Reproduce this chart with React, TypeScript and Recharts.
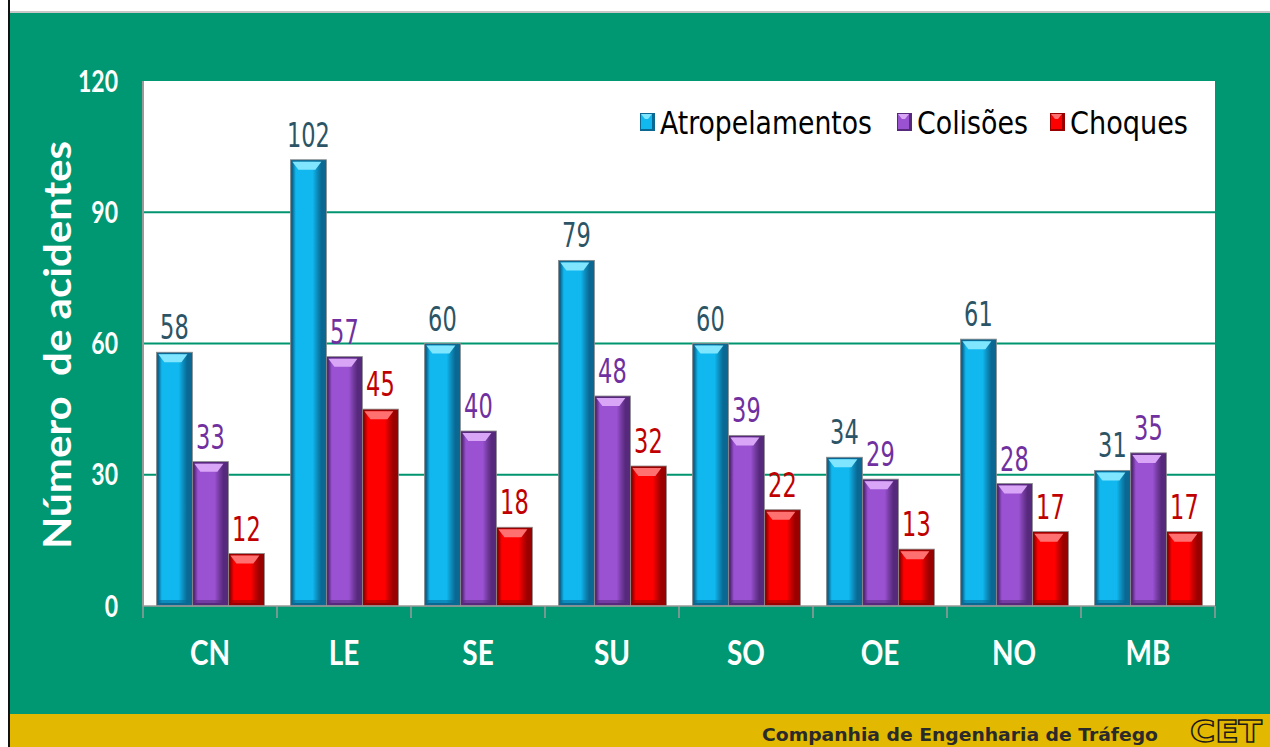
import React from 'react';
import { BarChart, Bar, XAxis, YAxis, CartesianGrid, Legend, LabelList } from 'recharts';

// accidents by region
const regions = ['CN', 'LE', 'SE', 'SU', 'SO', 'OE', 'NO', 'MB'];
const atropelamentos = [58, 102, 60, 79, 60, 34, 61, 31];
const colisoes = [33, 57, 40, 48, 39, 29, 28, 35];
const choques = [12, 45, 18, 32, 22, 13, 17, 17];
const yTicks = [0, 30, 60, 90, 120];
const gridValues = [30, 60, 90];

const data = regions.map((region, i) => ({
    region,
    atropelamentos: atropelamentos[i],
    colisoes: colisoes[i],
    choques: choques[i],
}));

const series = [
    { key: 'atropelamentos', name: 'Atropelamentos', main: '#10b8ef', light: '#80e6ff', dark: '#0a6892', label: '#2b5566', legendW: 212 },
    { key: 'colisoes', name: 'Colisões', main: '#9a52d2', light: '#d9a6f7', dark: '#57297c', label: '#7030a0', legendW: 111 },
    { key: 'choques', name: 'Choques', main: '#ff0000', light: '#ff7070', dark: '#990000', label: '#c00000', legendW: 118 },
];

const GREEN = '#009873';
const YELLOW = '#e2b800';
const CONDENSED = "'DejaVu Sans Condensed', 'DejaVu Sans', sans-serif";

const makeShape = (s: typeof series[number]) => (props: any) => {
    const { x, y, width: w, height: h } = props;
    if (!h || h <= 0) return <g />;
    const b = Math.min(8, h / 3);
    return (
        <g>
            <rect x={x} y={y} width={w} height={h} fill={s.dark} stroke="#8c8c8c" strokeWidth={0.8} />
            <rect x={x + 2} y={y + 2} width={w - 7} height={h - 5} fill={`url(#grad-${s.key})`} />
            <polygon
                points={`${x + 2},${y + 2} ${x + w - 5},${y + 2} ${x + w - 11},${y + 2 + b} ${x + 8},${y + 2 + b}`}
                fill={s.light}
            />
            <rect x={x + 2} y={y + h - 6} width={w - 7} height={4} fill={s.dark} opacity={0.55} />
        </g>
    );
};

const makeLabel = (color: string) => (props: any) => {
    const vb = props.viewBox || {};
    const x = Number(props.x ?? vb.x);
    const y = Number(props.y ?? vb.y);
    const w = Number(props.width ?? vb.width);
    return (
        <text
            transform={`translate(${x + w / 2},${y - 13}) scale(1,1.35)`}
            textAnchor="middle"
            fill={color}
            fontSize={25}
            fontFamily={CONDENSED}
        >
            {props.value}
        </text>
    );
};

const XTick = (props: any) => {
    const { x, y, payload, index } = props;
    const off = payload?.offset ?? 67;
    return (
        <g>
            <line x1={x - off} x2={x - off} y1={y} y2={y + 12} stroke="#9a9a9a" strokeWidth={1.5} />
            {index === regions.length - 1 && (
                <line x1={x + off} x2={x + off} y1={y} y2={y + 12} stroke="#9a9a9a" strokeWidth={1.5} />
            )}
            <text
                transform={`translate(${x},${y + 59}) scale(1,1.2)`}
                textAnchor="middle"
                fill="#fff"
                fontWeight="bold"
                fontSize={28}
                fontFamily="Lato, sans-serif"
            >
                {payload.value}
            </text>
        </g>
    );
};

const YTick = (props: any) => {
    const { x, y, payload } = props;
    return (
        <text
            transform={`translate(${x},${y + 10.5}) scale(1,1.3)`}
            textAnchor="end"
            fill="#fff"
            fontWeight="bold"
            fontSize={23}
            fontFamily="Lato, sans-serif"
        >
            {payload.value}
        </text>
    );
};

const renderLegend = () => {
    const starts = [10, 267, 420];
    return (
        <svg width={580} height={50}>
            {series.map((s, i) => (
                <g key={s.key}>
                    <rect x={starts[i]} y={15} width={15} height={18} fill={s.dark} />
                    <rect x={starts[i] + 1} y={16} width={11} height={15} fill={s.main} />
                    <polygon
                        points={`${starts[i] + 1},16 ${starts[i] + 12},16 ${starts[i] + 8},21 ${starts[i] + 5},21`}
                        fill={s.light}
                    />
                    <text
                        transform={`translate(${starts[i] + 20},36) scale(1,1.2)`}
                        fill="#000"
                        fontSize={26}
                        fontFamily={CONDENSED}
                        textLength={s.legendW}
                        lengthAdjust="spacingAndGlyphs"
                    >
                        {s.name}
                    </text>
                </g>
            ))}
        </svg>
    );
};

const Background = () => (
    <svg width={1270} height={747} style={{ position: 'absolute', left: 0, top: 0 }}>
        <rect x={0} y={0} width={1270} height={747} fill="#fff" />
        <rect x={10} y={13} width={1260} height={702} fill={GREEN} />
        <rect x={10} y={11} width={1260} height={2} fill="#c8c8c8" />
        <rect x={10} y={714} width={1260} height={33} fill={YELLOW} />
        <rect x={8} y={0} width={2} height={747} fill="#111" />
        <text
            transform="translate(71,345) rotate(-90)"
            textAnchor="middle"
            fill="#fff"
            fontWeight="bold"
            fontSize={38}
            fontFamily="Lato, sans-serif"
            textLength={408}
            lengthAdjust="spacingAndGlyphs"
        >
            Número&#160; de acidentes
        </text>
        <text
            x={762}
            y={741}
            fill="#2a2a2a"
            fontWeight="bold"
            fontSize={17}
            fontFamily="'DejaVu Sans', sans-serif"
            textLength={396}
            lengthAdjust="spacingAndGlyphs"
        >
            Companhia de Engenharia de Tráfego
        </text>
        <text
            x={1190}
            y={742}
            fill="none"
            stroke="#1a1a1a"
            strokeWidth={1.4}
            fontWeight="bold"
            fontSize={30}
            fontFamily="'DejaVu Sans', sans-serif"
            textLength={72}
            lengthAdjust="spacingAndGlyphs"
        >
            CET
        </text>
    </svg>
);

const App: React.FC = () => {
    return (
        <div style={{ position: 'relative', width: 1270, height: 747, overflow: 'hidden' }}>
            <style>{'body{margin:0}'}</style>
            <Background />
            <div style={{ position: 'absolute', left: 0, top: 0 }}>
                <BarChart
                    width={1270}
                    height={747}
                    data={data}
                    margin={{ top: 81, right: 55, bottom: 91, left: 83 }}
                    barCategoryGap="10%"
                    barGap={0}
                >
                    <defs>
                        {series.map(s => (
                            <linearGradient key={s.key} id={`grad-${s.key}`} x1="0" y1="0" x2="1" y2="0">
                                <stop offset="0%" stopColor={s.dark} />
                                <stop offset="12%" stopColor={s.main} />
                                <stop offset="70%" stopColor={s.main} />
                                <stop offset="100%" stopColor={s.dark} stopOpacity={0.85} />
                            </linearGradient>
                        ))}
                    </defs>
                    <CartesianGrid
                        vertical={false}
                        horizontalValues={gridValues}
                        stroke="#00956f"
                        strokeWidth={2}
                        fill="#fff"
                        fillOpacity={1}
                    />
                    <XAxis
                        dataKey="region"
                        height={50}
                        tickSize={0}
                        tickMargin={0}
                        tickLine={false}
                        axisLine={{ stroke: '#9a9a9a', strokeWidth: 1.5 }}
                        tick={<XTick />}
                        interval={0}
                    />
                    <YAxis
                        width={60}
                        domain={[0, 120]}
                        ticks={yTicks}
                        tickSize={0}
                        tickMargin={25}
                        tickLine={false}
                        axisLine={{ stroke: '#9a9a9a', strokeWidth: 2 }}
                        tick={<YTick />}
                    />
                    <Legend
                        layout="horizontal"
                        verticalAlign="middle"
                        align="center"
                        content={renderLegend}
                        wrapperStyle={{ position: 'absolute', left: 630, top: 98, width: 580, height: 50 }}
                    />
                    {series.map(s => (
                        <Bar
                            key={s.key}
                            dataKey={s.key}
                            name={s.name}
                            fill={s.main}
                            shape={makeShape(s)}
                            isAnimationActive={false}
                        >
                            <LabelList dataKey={s.key} content={makeLabel(s.label)} />
                        </Bar>
                    ))}
                </BarChart>
            </div>
        </div>
    );
};

export default App;
